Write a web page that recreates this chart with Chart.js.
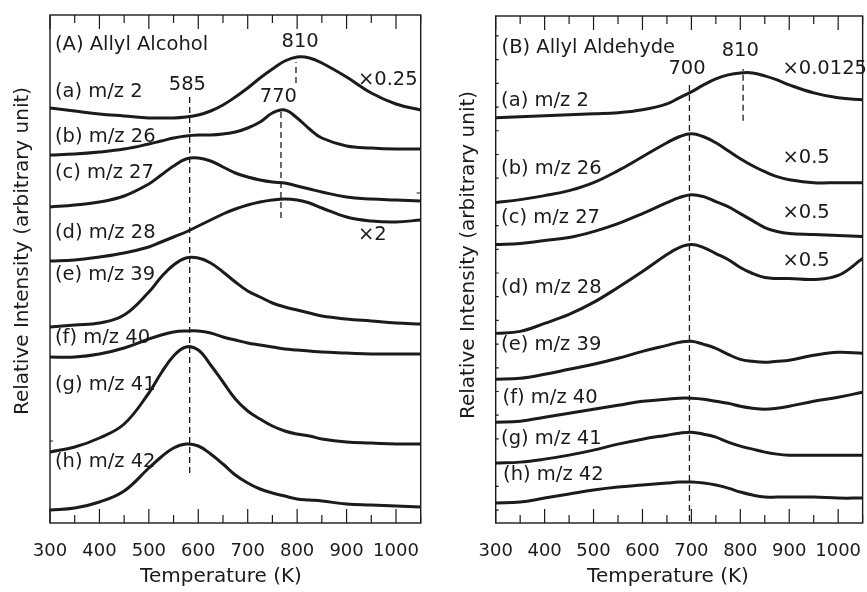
<!DOCTYPE html>
<html>
<head>
<meta charset="utf-8">
<title>TPD spectra - allyl alcohol / allyl aldehyde</title>
<script src="https://cdn.jsdelivr.net/npm/chart.js@4.4.1/dist/chart.umd.min.js"></script>
<style>
  html, body { margin: 0; padding: 0; background: #fff; overflow: hidden; }
  body { width: 867px; height: 592px; position: relative; }
  canvas { position: absolute; top: 0; }
  #panel-a { left: 0; }
  #panel-b { left: 440px; }
</style>
</head>
<body>
<canvas id="panel-a" width="440" height="592"></canvas>
<canvas id="panel-b" width="440" height="592"></canvas>
<script>
/* ---- data (arbitrary intensity, curves already offset as in the figure) ---- */

// (A) Allyl alcohol
const tempA = [300, 350, 400, 450, 500, 525, 550, 575, 600, 625, 650, 675, 700, 725, 750, 775, 800, 825, 850, 900, 950, 1000, 1050];
const alcohol2  = [415, 412, 409, 407, 405, 405, 405, 406, 408, 412, 418, 426, 435, 445, 454, 462, 466, 465, 460, 446, 430, 419, 413];
const alcohol26 = [368, 369, 371, 374, 379, 382, 385, 387, 388, 388, 389, 391, 395, 401, 410, 413, 405, 394, 385, 377, 375, 374, 374];
const alcohol27 = [316, 318, 321, 327, 339, 348, 357, 364, 365, 362, 356, 350, 346, 343, 341, 340, 337, 334, 331, 326, 324, 323, 322];
const alcohol28 = [262, 263, 266, 270, 276, 281, 286, 291, 297, 303, 309, 314, 318, 321, 323, 324, 323, 320, 315, 306, 302, 301, 303];
const alcohol39 = [196, 198, 200, 208, 231, 246, 258, 265, 265, 260, 251, 241, 232, 226, 220, 216, 213, 210, 207, 204, 202, 200, 199];
const alcohol40 = [166, 166, 169, 175, 184, 188, 191, 192, 192, 190, 186, 183, 180, 178, 176, 174, 173, 172, 171, 170, 169, 169, 169];
const alcohol41 = [71, 76, 85, 99, 130, 150, 167, 176, 173, 158, 141, 124, 112, 104, 97, 92, 89, 87, 84, 81, 80, 79, 79];
const alcohol42 = [13, 15, 21, 32, 55, 66, 75, 79, 77, 69, 59, 48, 40, 34, 30, 27, 24, 23, 22, 19, 18, 17, 16];

// (B) Allyl aldehyde
const tempB = [300, 350, 400, 450, 500, 550, 600, 650, 675, 700, 725, 750, 775, 800, 825, 850, 875, 900, 950, 1000, 1050];
const aldehyde2  = [406, 407, 408, 409, 410, 411, 414, 420, 426, 432, 439, 445, 449, 451, 451, 448, 444, 439, 431, 426, 424];
const aldehyde26 = [321, 324, 328, 333, 341, 353, 367, 381, 387, 390, 387, 381, 373, 365, 358, 352, 347, 344, 341, 341, 341];
const aldehyde27 = [279, 280, 283, 286, 292, 300, 310, 321, 326, 329, 327, 322, 317, 310, 303, 296, 292, 290, 289, 288, 287];
const aldehyde28 = [190, 192, 200, 209, 221, 236, 252, 269, 276, 279, 276, 270, 264, 256, 250, 246, 245, 245, 244, 248, 265];
const aldehyde39 = [144, 145, 149, 154, 159, 165, 172, 178, 181, 182, 179, 175, 169, 164, 162, 161, 162, 163, 168, 171, 170];
const aldehyde40 = [101, 102, 106, 110, 114, 118, 122, 124, 125, 125, 124, 122, 120, 117, 115, 114, 115, 117, 122, 126, 131];
const aldehyde41 = [60, 61, 64, 68, 73, 79, 84, 88, 90, 91, 89, 86, 81, 77, 74, 71, 69, 68, 68, 68, 68];
const aldehyde42 = [20, 21, 25, 29, 33, 36, 38, 40, 41, 41, 40, 38, 35, 31, 28, 26, 26, 26, 26, 25, 25];

// peak markers (dashed): temperature, lower end, upper end
const markTempA = [582.6, 767.3, 797.7];
const markLowA  = [50, 305, 440];
const markHighA = [426, 413, 461];
const markTempB = [696, 805.7];
const markLowB  = [2, 403];
const markHighB = [441, 455];

// text labels
const notesA = ["(A) Allyl Alcohol", "(a) m/z 2", "(b) m/z 26", "(c) m/z 27", "(d) m/z 28",
                "(e) m/z 39", "(f) m/z 40", "(g) m/z 41", "(h) m/z 42", "810", "585", "770", "×0.25", "×2"];
const notesB = ["(B) Allyl Aldehyde", "(a) m/z 2", "(b) m/z 26", "(c) m/z 27", "(d) m/z 28",
                "(e) m/z 39", "(f) m/z 40", "(g) m/z 41", "(h) m/z 42", "810", "700",
                "×0.0125", "×0.5", "×0.5", "×0.5"];

// small y ticks seen on the frames
const yTicksLeftA = [82];
const yTicksRightA = [330];
const yTicksLeftB = [488, 464.25, 440.5, 416.75, 393, 369.25, 345.5, 321.75, 298, 274.25, 250.5,
                     226.75, 203, 179.25, 155.5, 131.75, 108, 84.25, 60.5, 36.75, 13];

const xTitle = "Temperature (K)";
const yTitle = "Relative Intensity (arbitrary unit)";

/* ---- layout (where labels sit, in axis units) ---- */

const notePosA = [
    [310, 478, "left"], [310, 431, "left"], [310, 386, "left"], [310, 350, "left"], [310, 290, "left"],
    [310, 248, "left"], [310, 185, "left"], [310, 138, "left"], [310, 61, "left"],
    [806, 481, "center"], [578, 438, "center"], [762, 426, "center"], [923, 443, "left"], [923, 288, "left"],
];
const notePosB = [
    [312, 476, "left"], [311, 423, "left"], [311, 355, "left"], [311, 306, "left"], [311, 236, "left"],
    [311, 178, "left"], [314, 125, "left"], [311, 84, "left"], [315, 48, "left"],
    [800, 473, "center"], [691, 455, "center"],
    [886, 455, "left"], [886, 366, "left"], [886, 311, "left"], [886, 263, "left"],
];

const INK = "#1b1b1b";
const FONT = "'DejaVu Sans', 'Liberation Sans', sans-serif";

// ---- plugin: frame, inward ticks, labels, axis titles ----

const panelDecor = {
    id: "panelDecor",
    afterDatasetsDraw(chart, args, opts) {
        const { ctx, chartArea: area, scales: { x, y } } = chart;
        ctx.save();

        ctx.strokeStyle = INK;
        ctx.lineWidth = 1.4;
        ctx.strokeRect(area.left, area.top, area.right - area.left, area.bottom - area.top);

        // x ticks every 50 K, longer every 100 K, top and bottom
        ctx.lineWidth = 1.2;
        ctx.beginPath();
        for (let t = x.min; t <= x.max; t += 50) {
            const px = x.getPixelForValue(t);
            const len = t % 100 === 0 ? 14 : 8;
            ctx.moveTo(px, area.bottom);
            ctx.lineTo(px, area.bottom - len);
            ctx.moveTo(px, area.top);
            ctx.lineTo(px, area.top + len);
        }
        opts.leftTicks.forEach((v) => {
            const py = y.getPixelForValue(v);
            ctx.moveTo(area.left, py);
            ctx.lineTo(area.left + 3, py);
        });
        opts.rightTicks.forEach((v) => {
            const py = y.getPixelForValue(v);
            ctx.moveTo(area.right, py);
            ctx.lineTo(area.right - 4, py);
        });
        ctx.stroke();

        // labels
        ctx.fillStyle = INK;
        ctx.font = `19.5px ${FONT}`;
        ctx.textBaseline = "middle";
        opts.notes.forEach((text, i) => {
            const [t, v, align] = opts.notePos[i];
            ctx.textAlign = align;
            ctx.fillText(text, x.getPixelForValue(t), y.getPixelForValue(v));
        });

        // axis titles
        ctx.font = `20px ${FONT}`;
        ctx.textAlign = "center";
        ctx.textBaseline = "alphabetic";
        ctx.fillText(xTitle, opts.xTitleX, 582);
        ctx.translate(opts.yTitleX, opts.yTitleY);
        ctx.rotate(-Math.PI / 2);
        ctx.textBaseline = "middle";
        ctx.fillText(yTitle, 0, 0);

        ctx.restore();
    },
};

// ---- builders ----

function curve(temps, values) {
    return {
        data: temps.map((t, i) => ({ x: t, y: values[i] })),
        borderColor: INK,
        borderWidth: 3,
        pointRadius: 0,
        tension: 0.4,
        fill: false,
    };
}

function marker(t, lo, hi) {
    return {
        data: [{ x: t, y: lo }, { x: t, y: hi }],
        borderColor: INK,
        borderWidth: 1.3,
        borderDash: [6, 4],
        pointRadius: 0,
        fill: false,
    };
}

function makePanel(canvasId, datasets, pad, decor) {
    const ctx = document.getElementById(canvasId).getContext("2d");
    return new Chart(ctx, {
        type: "line",
        data: { datasets },
        plugins: [panelDecor],
        options: {
            responsive: false,
            animation: false,
            events: [],
            layout: { padding: pad },
            plugins: {
                legend: { display: false },
                tooltip: { enabled: false },
                panelDecor: decor,
            },
            scales: {
                x: {
                    type: "linear",
                    min: 300,
                    max: 1050,
                    grid: { display: false, drawTicks: false },
                    border: { display: false },
                    ticks: {
                        stepSize: 100,
                        includeBounds: false,
                        autoSkip: false,
                        maxRotation: 0,
                        padding: 18,
                        color: INK,
                        font: { family: FONT, size: 18 },
                        callback: (v) => String(v),
                    },
                    afterFit: (scale) => { scale.height = 69; },
                },
                y: { type: "linear", min: 0, max: 508, display: false },
            },
        },
    });
}

// ---- panels ----

const setsA = [
    ...markTempA.map((t, i) => marker(t, markLowA[i], markHighA[i])),
    curve(tempA, alcohol2), curve(tempA, alcohol26), curve(tempA, alcohol27), curve(tempA, alcohol28),
    curve(tempA, alcohol39), curve(tempA, alcohol40), curve(tempA, alcohol41), curve(tempA, alcohol42),
];

const setsB = [
    ...markTempB.map((t, i) => marker(t, markLowB[i], markHighB[i])),
    curve(tempB, aldehyde2), curve(tempB, aldehyde26), curve(tempB, aldehyde27), curve(tempB, aldehyde28),
    curve(tempB, aldehyde39), curve(tempB, aldehyde40), curve(tempB, aldehyde41), curve(tempB, aldehyde42),
];

makePanel("panel-a", setsA, { left: 50, right: 19.3, top: 15, bottom: 0 }, {
    notes: notesA, notePos: notePosA,
    leftTicks: yTicksLeftA, rightTicks: yTicksRightA,
    xTitleX: 221, yTitleX: 22.5, yTitleY: 251,
});

makePanel("panel-b", setsB, { left: 55.7, right: 14, top: 16, bottom: 0 }, {
    notes: notesB, notePos: notePosB,
    leftTicks: yTicksLeftB, rightTicks: [],
    xTitleX: 228, yTitleX: 29, yTitleY: 255,
});
</script>
</body>
</html>
